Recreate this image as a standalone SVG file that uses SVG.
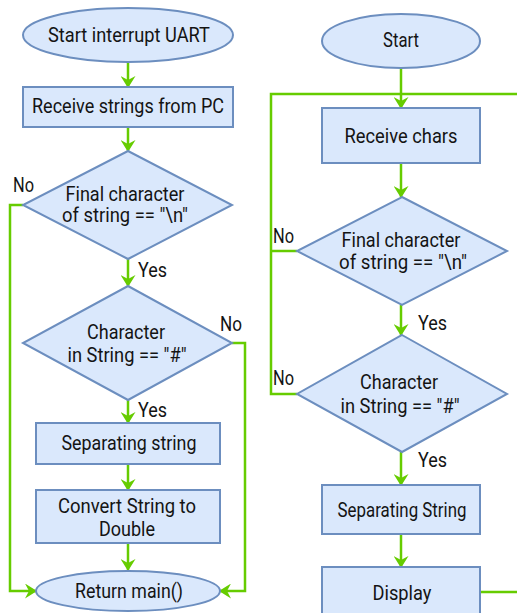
<svg xmlns="http://www.w3.org/2000/svg" width="517" height="613" viewBox="0 0 517 613">
  <style>
    .shape { fill: #dae8fc; stroke: #6c8ebf; stroke-width: 2; }
    .edge { fill: none; stroke: #66cc00; stroke-width: 2.5; }
    .arrow { marker-end: url(#head); }
    text { font-family: "Roboto", "Liberation Sans", sans-serif; font-size: 19.5px; fill: #141414; text-anchor: middle; }
    .lbl { text-anchor: start; }
  </style>
  <defs>
    <marker id="head" markerWidth="15" markerHeight="15" refX="11" refY="7.5" orient="auto" markerUnits="userSpaceOnUse">
      <path d="M0,0 L12,7.5 L0,15 L4,7.5 Z" fill="#66cc00"/>
    </marker>
  </defs>
  <rect width="517" height="613" fill="#ffffff"/>

  <!-- connectors -->
  <g id="connectors">
    <!-- interrupt flow -->
    <path class="edge arrow" d="M128,62 V87"/>
    <path class="edge arrow" d="M128,127 V151"/>
    <path class="edge arrow" d="M128,259 V286"/>
    <path class="edge arrow" d="M128,400 V423"/>
    <path class="edge arrow" d="M128,464 V490"/>
    <path class="edge arrow" d="M128,543 V570"/>
    <path class="edge arrow" d="M23,205 H10 V591 H36"/>
    <path class="edge arrow" d="M232,343 H245 V591 H220"/>
    <!-- main loop -->
    <path class="edge arrow" d="M401,68 V108"/>
    <path class="edge" d="M520,94 H271 V394 H297"/>
    <path class="edge" d="M271,251 H297"/>
    <path class="edge arrow" d="M401,163 V197"/>
    <path class="edge arrow" d="M401,305 V335"/>
    <path class="edge arrow" d="M401,452 V485"/>
    <path class="edge arrow" d="M401,534 V567"/>
    <path class="edge" d="M480,592 H520"/>
  </g>

  <!-- interrupt routine -->
  <g id="start-interrupt">
    <ellipse class="shape" cx="128" cy="35" rx="105" ry="27"/>
    <text x="129" y="42" textLength="162" lengthAdjust="spacingAndGlyphs">Start interrupt UART</text>
  </g>
  <g id="receive-strings">
    <rect class="shape" x="23" y="87" width="210" height="40"/>
    <text x="128" y="113" textLength="192" lengthAdjust="spacingAndGlyphs">Receive strings from PC</text>
  </g>
  <g id="check-newline-1">
    <polygon class="shape" points="128,151 232,205 128,259 23,205"/>
    <text x="125" y="201" textLength="119" lengthAdjust="spacingAndGlyphs">Final character</text>
    <text x="125" y="222" textLength="126" lengthAdjust="spacingAndGlyphs">of string == "\n"</text>
  </g>
  <g id="check-hash-1">
    <polygon class="shape" points="128,286 232,343 128,400 23,343"/>
    <text x="126" y="339" textLength="78" lengthAdjust="spacingAndGlyphs">Character</text>
    <text x="127" y="362" textLength="119" lengthAdjust="spacingAndGlyphs">in String == "#"</text>
  </g>
  <g id="separate-1">
    <rect class="shape" x="36" y="423" width="184" height="41"/>
    <text x="129" y="450" textLength="135" lengthAdjust="spacingAndGlyphs">Separating string</text>
  </g>
  <g id="convert">
    <rect class="shape" x="36" y="490" width="184" height="53"/>
    <text x="127" y="513" textLength="138" lengthAdjust="spacingAndGlyphs">Convert String to</text>
    <text x="127" y="536" textLength="56" lengthAdjust="spacingAndGlyphs">Double</text>
  </g>
  <g id="return-main">
    <ellipse class="shape" cx="128" cy="591" rx="92" ry="20"/>
    <text x="129" y="598" textLength="108" lengthAdjust="spacingAndGlyphs">Return main()</text>
  </g>
  <g id="labels-left">
    <text class="lbl" x="13" y="192" textLength="21" lengthAdjust="spacingAndGlyphs">No</text>
    <text class="lbl" x="138" y="277" textLength="29" lengthAdjust="spacingAndGlyphs">Yes</text>
    <text class="lbl" x="220" y="331" textLength="22" lengthAdjust="spacingAndGlyphs">No</text>
    <text class="lbl" x="138" y="417" textLength="29" lengthAdjust="spacingAndGlyphs">Yes</text>
  </g>

  <!-- main program -->
  <g id="start">
    <ellipse class="shape" cx="401" cy="41" rx="79" ry="27"/>
    <text x="401" y="47" textLength="36" lengthAdjust="spacingAndGlyphs">Start</text>
  </g>
  <g id="receive-chars">
    <rect class="shape" x="322" y="108" width="158" height="55"/>
    <text x="401" y="143" textLength="113" lengthAdjust="spacingAndGlyphs">Receive chars</text>
  </g>
  <g id="check-newline-2">
    <polygon class="shape" points="402,197 507,251 402,305 297,251"/>
    <text x="401" y="247" textLength="119" lengthAdjust="spacingAndGlyphs">Final character</text>
    <text x="403" y="269" textLength="128" lengthAdjust="spacingAndGlyphs">of string == "\n"</text>
  </g>
  <g id="check-hash-2">
    <polygon class="shape" points="402,335 507,394 402,452 297,394"/>
    <text x="399" y="389" textLength="78" lengthAdjust="spacingAndGlyphs">Character</text>
    <text x="400" y="413" textLength="119" lengthAdjust="spacingAndGlyphs">in String == "#"</text>
  </g>
  <g id="separate-2">
    <rect class="shape" x="322" y="485" width="158" height="49"/>
    <text x="402" y="517" textLength="129" lengthAdjust="spacingAndGlyphs">Separating String</text>
  </g>
  <g id="display">
    <rect class="shape" x="322" y="567" width="158" height="56"/>
    <text x="402" y="600" textLength="59" lengthAdjust="spacingAndGlyphs">Display</text>
  </g>
  <g id="labels-right">
    <text class="lbl" x="273" y="243" textLength="21" lengthAdjust="spacingAndGlyphs">No</text>
    <text class="lbl" x="418" y="330" textLength="29" lengthAdjust="spacingAndGlyphs">Yes</text>
    <text class="lbl" x="273" y="385" textLength="21" lengthAdjust="spacingAndGlyphs">No</text>
    <text class="lbl" x="418" y="467" textLength="29" lengthAdjust="spacingAndGlyphs">Yes</text>
  </g>
</svg>
